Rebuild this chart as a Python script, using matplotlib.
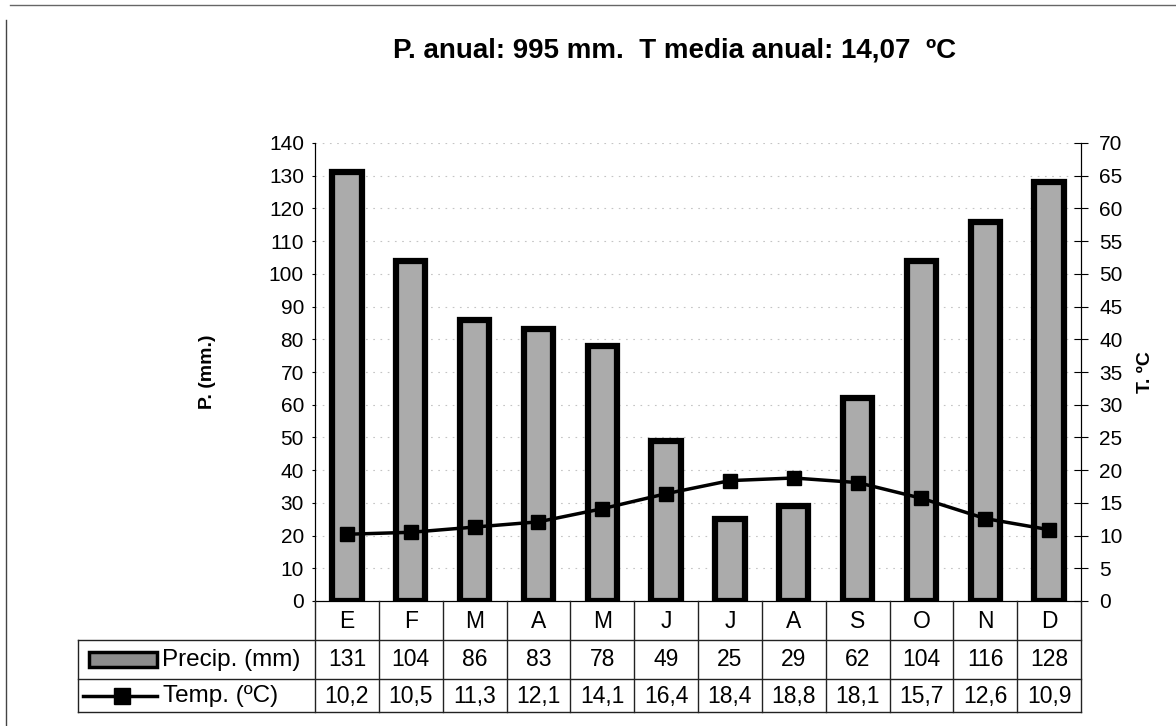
import matplotlib.pyplot as plt
from matplotlib.lines import Line2D
from matplotlib.patches import Rectangle
import matplotlib.transforms as mtransforms

plt.rcParams['font.family'] = ['Liberation Sans', 'DejaVu Sans']

months = ['E', 'F', 'M', 'A', 'M', 'J', 'J', 'A', 'S', 'O', 'N', 'D']
precip = [131, 104, 86, 83, 78, 49, 25, 29, 62, 104, 116, 128]
temp = [10.2, 10.5, 11.3, 12.1, 14.1, 16.4, 18.4, 18.8, 18.1, 15.7, 12.6, 10.9]
title = 'P. anual: 995 mm.  T media anual: 14,07  ºC'

W, H = 1176, 726
fig = plt.figure(figsize=(W / 100, H / 100), dpi=100)
ax = fig.add_axes([315 / W, 1 - 601 / H, (1081 - 315) / W, (601 - 143) / H])

x = list(range(len(months)))
ax.bar(x, precip, width=0.46, color='#ababab', edgecolor='black', linewidth=4.5, zorder=2)
ax.set_xlim(-0.5, 11.5)
ax.set_ylim(0, 140)
ax.set_yticks(range(0, 141, 10))
ax.set_xticks([])
ax.grid(axis='y', color='#c4c4c4', linestyle=(0, (1.5, 5)), linewidth=0.8, zorder=0)
ax.tick_params(axis='y', labelsize=15, length=2, direction='out', pad=6)
ax.spines['top'].set_visible(False)

ax2 = ax.twinx()
ax2.plot(x, temp, color='black', linewidth=2.5, marker='s', markersize=10, zorder=3)
ax2.set_ylim(0, 70)
ax2.set_yticks(range(0, 71, 5))
ax2.tick_params(axis='y', labelsize=15, length=10, direction='inout', pad=8)
ax2.spines['top'].set_visible(False)

def fy(py):
    return 1 - py / H

def fx(px):
    return px / W

fig.text(fx(675), fy(50), title, ha='center', va='center', fontsize=20, fontweight='bold')
fig.text(fx(208), fy(372), 'P. (mm.)', ha='center', va='center', rotation=90,
         fontsize=14, fontweight='bold')
fig.text(fx(1145), fy(372), 'T. ºC', ha='center', va='center', rotation=90,
         fontsize=14, fontweight='bold')

# data table under the plot: columns follow the data coords, rows in figure pixels
blend = mtransforms.blended_transform_factory(ax.transData, fig.transFigure)
lc = '#222222'
for i in range(13):
    xv = i - 0.5
    fig.add_artist(Line2D([xv, xv], [fy(601), fy(712)], transform=blend, color=lc, lw=1))
for r in [640, 679, 712]:
    fig.add_artist(Line2D([fx(78), fx(1081)], [fy(r), fy(r)], color=lc, lw=1))
fig.add_artist(Line2D([fx(78), fx(78)], [fy(640), fy(712)], color=lc, lw=1))

fs = 16.5
for i, m in enumerate(months):
    fig.text(i, fy(621), m, transform=blend, ha='center', va='center', fontsize=fs)
    fig.text(i, fy(660), str(precip[i]), transform=blend, ha='center', va='center', fontsize=fs)
    fig.text(i, fy(696), f'{temp[i]:.1f}'.replace('.', ','), transform=blend,
             ha='center', va='center', fontsize=fs)

fig.add_artist(Rectangle((fx(89), fy(667)), fx(68), 15 / H, transform=fig.transFigure,
                         facecolor='#8c8c8c', edgecolor='black', lw=2.5))
fig.text(fx(162), fy(660), 'Precip. (mm)', ha='left', va='center', fontsize=17.5)
fig.add_artist(Line2D([fx(83), fx(157)], [fy(696), fy(696)], color='black', lw=2.5))
fig.add_artist(Line2D([fx(122)], [fy(696)], color='black', marker='s', markersize=12))
fig.text(fx(163), fy(696), 'Temp. (ºC)', ha='left', va='center', fontsize=17.5)

# scanned page border
fig.add_artist(Line2D([fx(6), fx(6)], [fy(20), fy(726)], color='#444444', lw=1))
fig.add_artist(Line2D([fx(10), fx(1176)], [fy(5), fy(5)], color='#666666', lw=1))

fig.savefig('out.png', dpi=100)
